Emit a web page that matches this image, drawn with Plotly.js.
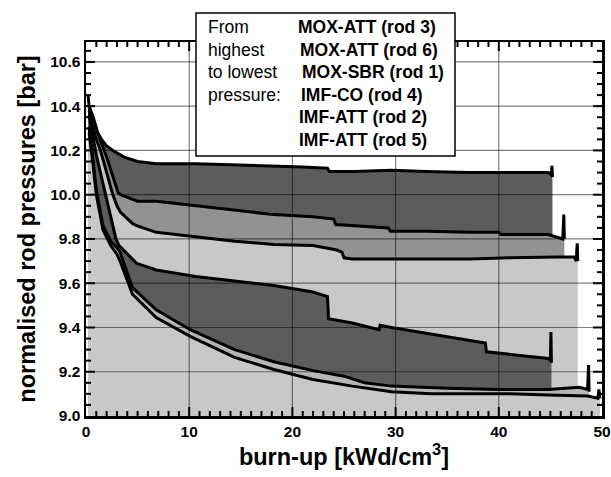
<!DOCTYPE html>
<html>
<head>
<meta charset="utf-8">
<script src="https://cdn.plot.ly/plotly-3.0.1.min.js"></script>
<style>html,body{margin:0;padding:0;background:#fff;}#chart{width:611px;height:477px;}</style>
</head>
<body>
<div id="chart"></div>
<script>
// ---- data ----
const rod3_x = [0.2,0.3,0.6,1.0,1.5,2.0,2.6,3.0,3.7,5.0,6.8,8.5,10.6,14.0,18.2,21.0,23.4,23.6,26.0,29.6,33.0,37.2,41.0,44.8,45.1,45.15,45.2];
const rod3_y = [10.45,10.40,10.34,10.29,10.25,10.22,10.20,10.19,10.17,10.15,10.14,10.14,10.14,10.135,10.13,10.125,10.12,10.105,10.105,10.11,10.105,10.10,10.10,10.10,10.09,10.13,10.08];

const rod6_x = [0.2,0.3,0.7,1.2,2.0,2.6,3.1,3.35,5.0,6.8,10.6,14.4,18.2,22.0,24.0,24.2,26.0,29.3,29.5,33.0,37.2,40.0,40.2,44.8,46.2,46.3,46.35];
const rod6_y = [10.40,10.40,10.35,10.27,10.17,10.08,10.01,10.00,9.97,9.97,9.95,9.93,9.91,9.90,9.89,9.865,9.86,9.85,9.835,9.835,9.83,9.83,9.82,9.82,9.80,9.91,9.80];

const rod1_x = [0.2,0.3,0.6,1.0,1.4,2.0,2.6,3.0,3.35,4.5,4.9,6.8,10.6,14.4,18.2,22.0,24.3,24.8,25.0,25.8,29.6,33.0,37.2,41.0,44.8,47.3,47.5,47.6,47.65];
const rod1_y = [10.38,10.38,10.32,10.25,10.20,10.10,10.00,9.95,9.92,9.87,9.86,9.83,9.81,9.79,9.775,9.77,9.75,9.74,9.715,9.71,9.71,9.71,9.71,9.715,9.72,9.72,9.70,9.78,9.70];

const rod4_x = [0.2,0.3,0.6,1.0,1.5,2.0,2.5,2.9,3.2,4.9,6.8,10.6,14.4,18.2,22.0,23.4,23.5,25.8,28.4,28.5,29.6,33.4,38.7,38.8,41.0,44.8,45.0,45.05,45.1];
const rod4_y = [10.36,10.36,10.28,10.18,10.08,9.98,9.88,9.80,9.77,9.69,9.66,9.63,9.61,9.59,9.56,9.54,9.44,9.42,9.39,9.41,9.40,9.37,9.33,9.29,9.28,9.26,9.25,9.38,9.24];

const rod2_x = [0.2,0.3,0.6,1.0,1.65,2.4,3.0,3.3,4.5,6.8,10.1,14.4,18.2,22.0,25.0,27.0,29.6,35.0,40.0,44.8,47.8,48.6,48.7,48.75];
const rod2_y = [10.30,10.30,10.19,10.02,9.86,9.79,9.76,9.74,9.58,9.48,9.39,9.30,9.245,9.205,9.18,9.15,9.135,9.125,9.12,9.12,9.13,9.12,9.23,9.11];

const rod5_x = [0.2,0.3,0.6,1.0,1.65,2.4,3.0,3.3,4.5,6.8,10.1,14.4,18.2,22.0,25.8,29.6,33.4,37.2,41.0,44.8,48.6,49.6,49.7,49.8];
const rod5_y = [10.28,10.28,10.17,10.00,9.84,9.77,9.73,9.70,9.55,9.445,9.36,9.265,9.21,9.165,9.135,9.11,9.10,9.10,9.10,9.095,9.09,9.08,9.12,9.08];

const seriesNames = ["MOX-ATT (rod 3)","MOX-ATT (rod 6)","MOX-SBR (rod 1)","IMF-CO (rod 4)","IMF-ATT (rod 2)","IMF-ATT (rod 5)"];
const introLines = ["From","highest","to lowest","pressure:"];
const xTicks = [0,10,20,30,40,50];
const yTicks = [9.0,9.2,9.4,9.6,9.8,10.0,10.2,10.4,10.6];
const xMinorStep = 1, yMinorStep = 0.05;

// ---- styling ----
const fills = ["#5c5c5c","#929292","#c8c8c8","#5c5c5c","#b6b6b6","#c8c8c8"];
const xs = [rod3_x,rod6_x,rod1_x,rod4_x,rod2_x,rod5_x];
const ys = [rod3_y,rod6_y,rod1_y,rod4_y,rod2_y,rod5_y];

const traces = xs.map((x,i)=>({
  type:'scatter', mode:'lines', x:x, y:ys[i], name:seriesNames[i],
  fill:'tozeroy', fillcolor:fills[i],
  line:{color:'#000', width:3}, showlegend:false, hoverinfo:'skip'
}));

const W=611,H=477, L=86,R=9,T=42,B=61;
const pw=W-L-R, ph=H-T-B;
const px = v => (v-L)/pw;
const py = v => (H-B-v)/ph;

const xMin=xTicks[0], xMax=xTicks[xTicks.length-1];
const yMin=9.0, yMax=10.69;
const xFrac = v => (v-xMin)/(xMax-xMin);
const yFrac = v => (v-yMin)/(yMax-yMin);

const shapes = [];
function vbar(xf,y0,y1,wpx,color){
  const h=wpx/2/pw;
  shapes.push({type:'rect',xref:'paper',yref:'paper',x0:xf-h,x1:xf+h,y0:y0,y1:y1,layer:'above',fillcolor:color,line:{width:0}});
}
function hbar(yf,x0,x1,wpx,color){
  const h=wpx/2/ph;
  shapes.push({type:'rect',xref:'paper',yref:'paper',y0:yf-h,y1:yf+h,x0:x0,x1:x1,layer:'above',fillcolor:color,line:{width:0}});
}
// dotted grid lines
const gridColor='rgba(0,0,0,0.5)';
xTicks.slice(1,-1).forEach(v=>vbar(xFrac(v),0,1,1.2,gridColor));
yTicks.slice(1).forEach(v=>hbar(yFrac(v),0,1,1.2,gridColor));

// tick marks, inside on all four sides
const minorX=5/pw, minorY=5/ph, majorX=9/pw, majorY=9/ph;
for(let k=1;k*xMinorStep<xMax-xMin;k++){
  const v=xMin+k*xMinorStep;
  const major=xTicks.some(t=>Math.abs(t-v)<1e-9);
  const len=major?majorY:minorY, w=2;
  vbar(xFrac(v),0,len,w,'#000');
  vbar(xFrac(v),1-len,1,w,'#000');
}
for(let k=1;yMin+k*yMinorStep<yMax;k++){
  const v=+(yMin+k*yMinorStep).toFixed(3);
  const major=yTicks.some(t=>Math.abs(t-v)<1e-9);
  const len=major?majorX:minorX, w=2;
  hbar(yFrac(v),0,len,w,'#000');
  hbar(yFrac(v),1-len,1,w,'#000');
}

// legend box
shapes.push({type:'rect',xref:'paper',yref:'paper',x0:px(196),x1:px(455),y0:py(156),y1:py(13),layer:'above',fillcolor:'#fff',line:{color:'#000',width:1.5}});

const annotations = [];
const lineY = [27,50,72,95,117,140];
introLines.forEach((t,i)=>annotations.push({xref:'paper',yref:'paper',x:px(206),y:py(lineY[i]),xanchor:'left',yanchor:'middle',text:t,showarrow:false,font:{family:'Liberation Sans, Arial, sans-serif',size:17.5,color:'#000'}}));
const rightX=[296,298,300,299,297,297];
seriesNames.forEach((t,i)=>annotations.push({xref:'paper',yref:'paper',x:px(rightX[i]),y:py(lineY[i]),xanchor:'left',yanchor:'middle',text:t,showarrow:false,font:{family:'Liberation Sans, Arial, sans-serif',size:17.5,color:'#000',weight:'bold'}}));

const tickFont={family:'Liberation Sans, Arial, sans-serif',size:15.5,color:'#000',weight:'bold'};
const titleFont={family:'Liberation Sans, Arial, sans-serif',size:23.5,color:'#000',weight:'bold'};

const layout = {
  width:W,height:H,margin:{l:L,r:R,t:T,b:B},
  paper_bgcolor:'#fff',plot_bgcolor:'#fff',
  xaxis:{range:[xMin,xMax],tickmode:'array',tickvals:xTicks,ticktext:xTicks.map(String),showgrid:false,zeroline:false,
    ticks:'',showline:true,mirror:true,linecolor:'#000',linewidth:2.5,ticklabeloverflow:'allow',
    tickfont:tickFont,layer:'above traces',
    title:{text:'burn-up [kWd/cm<sup>3</sup>]',font:titleFont,standoff:10}},
  yaxis:{range:[yMin,yMax],tickmode:'array',tickvals:yTicks,ticktext:yTicks.map(v=>v.toFixed(1)),showgrid:false,zeroline:false,
    ticks:'',showline:true,mirror:true,linecolor:'#000',linewidth:2.5,ticklabeloverflow:'allow',
    tickfont:tickFont,layer:'above traces',
    title:{text:'normalised rod pressures [bar]',font:titleFont,standoff:8}},
  shapes:shapes, annotations:annotations, showlegend:false
};

Plotly.newPlot('chart',traces,layout,{staticPlot:true,displayModeBar:false});
</script>
</body>
</html>
